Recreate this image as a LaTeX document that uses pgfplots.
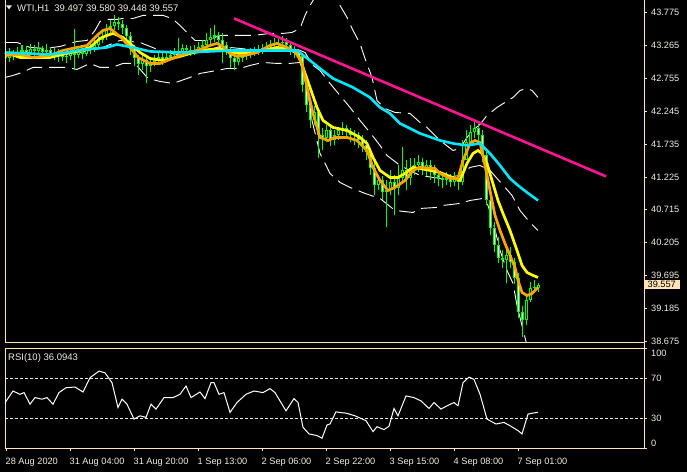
\documentclass[border=0pt]{standalone}
\usepackage{pgfplots}
\pgfplotsset{compat=1.18}
\usepackage{pgfplotstable}
\usepackage{fontspec}
\setmainfont{Liberation Sans}
\definecolor{frame}{RGB}{255,228,181}
\definecolor{lab}{RGB}{242,236,224}
\definecolor{candle}{RGB}{0,255,0}
\definecolor{maY}{RGB}{255,255,0}
\definecolor{maO}{RGB}{255,165,0}
\definecolor{maC}{RGB}{0,230,255}
\definecolor{trend}{RGB}{255,20,147}
\definecolor{bid}{RGB}{255,228,181}
\newcommand\lf{\fontsize{9.5}{11}\selectfont}
\newcommand\tf{\fontsize{9.2}{11}\selectfont}

\pgfplotstableread{
i o h l c
0 43.092 43.185 42.953 43.061
1 43.061 43.216 42.999 43.123
2 43.123 43.185 43.030 43.092
3 43.092 43.232 43.061 43.154
4 43.154 43.263 43.092 43.185
5 43.185 43.247 43.077 43.139
6 43.139 43.278 43.108 43.201
7 43.201 43.263 43.092 43.170
8 43.170 43.309 43.123 43.216
9 43.216 43.247 43.077 43.154
10 43.154 43.278 43.108 43.185
11 43.185 43.232 43.061 43.123
12 43.123 43.216 43.030 43.108
13 43.108 43.201 42.999 43.139
14 43.139 43.185 43.015 43.077
15 43.077 43.170 42.984 43.092
16 43.092 43.216 43.030 43.139
17 43.139 43.511 42.875 43.108
18 43.108 43.232 43.061 43.154
19 43.154 43.216 43.046 43.123
20 43.123 43.263 43.092 43.185
21 43.185 43.294 43.123 43.216
22 43.216 43.340 43.154 43.263
23 43.263 43.418 43.216 43.340
24 43.340 43.495 43.294 43.402
25 43.402 43.588 43.340 43.495
26 43.495 43.650 43.449 43.557
27 43.557 43.728 43.495 43.619
28 43.619 43.697 43.495 43.588
29 43.588 43.650 43.433 43.526
30 43.526 43.573 43.309 43.402
31 43.402 43.464 43.108 43.216
32 43.216 43.263 42.937 43.061
33 43.061 43.108 42.798 42.968
34 42.968 43.108 42.875 43.030
35 43.030 43.077 42.674 42.937
36 42.937 43.061 42.844 42.999
37 42.999 43.108 42.937 43.030
38 43.030 43.154 42.984 43.077
39 43.077 43.139 42.953 43.030
40 43.030 43.154 42.999 43.077
41 43.077 43.185 43.030 43.108
42 43.108 43.216 43.061 43.123
43 43.123 43.371 43.077 43.154
44 43.154 43.278 43.108 43.216
45 43.216 43.263 43.123 43.185
46 43.185 43.247 43.092 43.154
47 43.154 43.263 43.108 43.185
48 43.185 43.309 43.139 43.232
49 43.232 43.340 43.185 43.263
50 43.263 43.449 43.216 43.340
51 43.340 43.526 43.278 43.387
52 43.387 43.573 43.309 43.418
53 43.418 43.464 43.263 43.340
54 43.340 43.449 42.984 43.263
55 43.263 43.309 43.108 43.185
56 43.185 43.232 42.906 43.061
57 43.061 43.108 42.875 42.999
58 42.999 43.123 42.953 43.061
59 43.061 43.154 42.999 43.092
60 43.092 43.185 43.030 43.123
61 43.123 43.216 43.061 43.154
62 43.154 43.232 43.092 43.170
63 43.170 43.263 43.108 43.185
64 43.185 43.278 43.123 43.216
65 43.216 43.309 43.154 43.232
66 43.232 43.340 43.185 43.263
67 43.263 43.371 43.201 43.278
68 43.278 43.387 43.216 43.294
69 43.294 43.402 43.232 43.309
70 43.309 43.371 43.185 43.263
71 43.263 43.309 43.108 43.185
72 43.185 43.247 43.061 43.154
73 43.154 43.185 43.030 43.092
74 43.092 43.123 42.534 42.643
75 42.643 42.689 42.224 42.333
76 42.333 42.410 41.976 42.100
77 42.100 42.317 42.023 42.224
78 42.224 42.255 41.511 41.868
79 41.868 41.976 41.635 41.821
80 41.821 42.023 41.759 41.945
81 41.945 41.992 41.697 41.790
82 41.790 41.945 41.713 41.868
83 41.868 41.992 41.790 41.945
84 41.945 42.069 41.868 41.976
85 41.976 42.023 41.821 41.914
86 41.914 41.976 41.759 41.868
87 41.868 41.945 41.713 41.868
88 41.868 41.914 41.666 41.790
89 41.790 41.868 41.604 41.713
90 41.713 41.790 41.480 41.604
91 41.604 41.666 41.248 41.356
92 41.356 41.449 40.938 41.093
93 41.093 41.248 41.015 41.170
94 41.170 41.232 40.860 40.984
95 40.984 41.170 40.442 41.015
96 41.015 41.325 40.938 41.139
97 41.139 41.248 40.628 41.046
98 41.046 41.403 40.938 41.201
99 41.201 41.682 41.139 41.325
100 41.325 41.480 41.015 41.201
101 41.201 41.511 41.093 41.356
102 41.356 41.511 41.248 41.403
103 41.403 41.558 41.294 41.449
104 41.449 41.511 41.248 41.356
105 41.356 41.480 41.232 41.403
106 41.403 41.480 41.170 41.325
107 41.325 41.403 41.124 41.248
108 41.248 41.325 41.077 41.201
109 41.201 41.294 41.046 41.170
110 41.170 41.294 41.093 41.201
111 41.201 41.263 41.062 41.139
112 41.139 41.294 41.077 41.201
113 41.201 41.279 41.015 41.139
114 41.139 41.790 41.093 41.480
115 41.480 41.945 41.635 41.759
116 41.759 42.023 41.713 41.914
117 41.914 42.069 41.821 41.976
118 41.976 42.038 41.759 41.868
119 41.868 41.945 41.449 41.558
120 41.558 41.604 40.783 40.860
121 40.860 40.922 40.318 40.426
122 40.426 40.519 40.054 40.163
123 40.163 40.287 39.884 39.961
124 39.961 40.085 39.806 39.930
125 39.930 40.085 39.574 40.008
126 40.008 40.132 39.806 39.899
127 39.899 39.961 39.558 39.651
128 39.651 39.729 39.031 39.124
129 39.124 39.217 38.737 39.000
130 39.000 39.372 38.923 39.310
131 39.310 39.589 39.279 39.496
132 39.496 39.620 39.434 39.512
133 39.497 39.580 39.448 39.557
}\bars

\pgfplotstableread{
i p
-0.5 44.2
1.75 57.4
3.5 54.1
4.5 55.8
6 44.2
7.25 50.8
9 49.2
10.25 50.8
11.75 44.2
13.25 55.8
15 60.7
17.25 61.4
19.25 56.4
21 70.7
23.25 77.3
24.75 75.6
26.5 65.7
28 40.9
29 49.2
30.25 44.2
32 29.3
33.5 32.6
35 31.0
36.25 44.2
37.5 39.3
39.5 50.8
41.75 50.8
43.5 54.1
45 62.4
46.25 50.8
48.5 56.4
49.75 49.8
51.25 65.7
52 65.7
53.25 54.1
54.5 55.8
56 36.0
57.75 45.9
60 54.1
62 57.4
64.25 55.8
66 59.8
67.25 55.8
70 37.6
72 49.8
73 45.9
74.25 21.1
75.75 14.5
77.75 12.8
79 10.2
80.25 23.4
81 24.4
82.5 36.6
83.5 35.9
85 35.3
87.25 32.6
90 27.7
91.75 16.8
92.75 21.7
94.5 18.8
95.75 22.1
97 39.9
98 32.6
100 52.5
102 50.8
103.75 47.5
105.75 39.9
107 45.9
108.75 39.3
110.25 42.6
112 45.9
113 42.6
114.25 65.7
115.75 71.3
117 69.0
118.5 54.1
120.25 29.3
122.5 24.4
124.5 26.0
126.25 22.1
128 17.8
129 14.5
130.5 34.3
131.75 35.3
133 36.1
}\rsi

\begin{document}
\begin{tikzpicture}
\fill[black] (0,0) rectangle (687pt,472pt);

% ---------------- main price panel ----------------
\begin{axis}[
  at={(5pt,472pt)}, anchor=north west, scale only axis,
  width=639pt, height=342pt,
  xmin=-0.25, xmax=159.5, ymin=38.660, ymax=43.961,
  axis line style={draw=none},
  clip mode=individual,
  xtick=\empty,
  ytick={38.675,39.185,39.695,40.205,40.715,41.225,41.735,42.245,42.755,43.265,43.775},
  ytick pos=right, yticklabel pos=right,
  tick align=outside, major tick length=3pt,
  tick style={draw=frame, line width=0.8pt},
  yticklabel style={text=lab, font=\tf, inner sep=0pt, xshift=4pt,
    /pgf/number format/fixed, /pgf/number format/fixed zerofill,
    /pgf/number format/precision=3, /pgf/number format/assume math mode=true},
  extra y ticks={39.557}, extra y tick labels={39.557},
  extra y tick style={major tick length=0pt, yticklabel style={fill=bid, text=black, inner xsep=4pt, inner ysep=1.6pt, xshift=-4.5pt}},
]
% Bollinger bands (white dashed)
\addplot[white, line width=0.9pt, dash pattern=on 16pt off 7pt] coordinates {
(-0.25,43.309) (2.75,43.309) (6,43.232) (9.75,43.216) (13.5,43.247) (17.75,43.325) (20.25,43.340)
(22.25,43.495) (23.5,43.635) (25.25,43.666) (27.75,43.666) (29.25,43.681) (31.75,43.681)
(34.25,43.728) (39.25,43.728) (41.5,43.681) (43.5,43.573) (45.5,43.449) (47.25,43.340)
(50.25,43.340) (53.5,43.418) (56.75,43.418) (61.75,43.418) (66,43.449) (69.25,43.449)
(71.5,43.464) (73.5,43.526) (74.75,43.728) (76,43.883) (78,44.084) (79.75,44.146) (81.75,44.084)
(83.5,43.883) (85.25,43.697) (86.75,43.495) (88.5,43.294) (89.75,43.061) (91.5,42.767)
(92.75,42.410) (94.75,42.286) (97.25,42.224) (101,42.209) (103.5,42.069) (105.25,41.992)
(108.5,41.790) (111.75,41.635) (113.5,41.666) (115.25,41.837) (117.25,41.976) (118.5,42.038)
(120.25,42.178) (122.75,42.302) (124.75,42.379) (126.75,42.457) (128.5,42.565) (130.25,42.596)
(131.5,42.565) (133,42.457)};
\addplot[white, line width=0.9pt, dash pattern=on 16pt off 7pt] coordinates {
(-0.25,43.139) (8.5,43.123) (18.5,43.154) (23.5,43.216) (28.5,43.340) (33.5,43.309) (38.5,43.185)
(43.5,43.108) (48.5,43.154) (53.5,43.247) (58.5,43.216) (63.5,43.185) (68.5,43.232) (72.25,43.216)
(74.75,43.154) (76.75,42.953) (78.5,42.875) (81,42.674) (83.5,42.488) (86,42.302) (88.5,42.100)
(91,41.914) (93.5,41.713) (95.25,41.558) (98.5,41.403) (103.5,41.248) (108.5,41.201) (113.5,41.248)
(116,41.372) (118.5,41.403) (121,41.325) (124.75,41.062) (126.5,40.938) (128.5,40.705) (131,40.519)
(133,40.395)};
\addplot[white, line width=0.9pt, dash pattern=on 16pt off 7pt] coordinates {
(-0.25,42.767) (1.75,42.798) (4,42.844) (6.75,42.922) (9.25,42.922) (11.75,42.922) (15.25,42.922)
(17.75,42.891) (21,42.984) (23.5,42.922) (26.5,42.922) (29.25,42.984) (32.25,42.984) (35.5,42.751)
(38.5,42.705) (41.75,42.674) (46,42.767) (48.5,42.829) (52.75,42.875) (55.25,42.906) (58.5,42.906)
(61,42.953) (64.25,42.999) (67.75,42.984) (71,42.984) (73.5,42.999) (75,42.720) (76.5,42.100)
(78.5,41.589) (81,41.279) (83.5,41.139) (86,41.062) (89.75,40.969) (93.5,40.891) (97.25,40.705)
(101.75,40.674) (103.5,40.736) (107.75,40.752) (109.25,40.783) (113.5,40.814) (116,40.860)
(119.25,40.891) (120.5,40.783) (122,40.473) (123.5,40.085) (125.25,39.775) (126.75,39.574)
(127.75,39.233) (129,38.923) (130.25,38.613)};

% candles: wicks
\addplot[draw=none, mark=none, forget plot, error bars/.cd, y dir=plus, y explicit,
  error mark=none, error bar style={draw=candle, line width=1pt}]
  table[x=i, y=l, y error expr={\thisrow{h}-\thisrow{l}}] {\bars};
% bodies
\addplot[draw=none, mark=none, forget plot, error bars/.cd, y dir=plus, y explicit,
  error mark=none, error bar style={draw=candle, line width=3pt}]
  table[x=i, y expr={min(\thisrow{o},\thisrow{c})},
        y error expr={max(abs(\thisrow{c}-\thisrow{o}),0.0155)}] {\bars};
% bear inner (white)
\addplot[draw=none, mark=none, forget plot, error bars/.cd, y dir=plus, y explicit,
  error mark=none, error bar style={draw=white, line width=1pt}]
  table[x=i, y expr={\thisrow{c}+0.0155},
        y error expr={max(\thisrow{o}-\thisrow{c}-0.031,0)}] {\bars};
% bull inner (black)
\addplot[draw=none, mark=none, forget plot, error bars/.cd, y dir=plus, y explicit,
  error mark=none, error bar style={draw=black, line width=1pt}]
  table[x=i, y expr={\thisrow{o}+0.0155},
        y error expr={max(\thisrow{c}-\thisrow{o}-0.031,0)}] {\bars};

% yellow MA
\addplot[maY, line width=2.7pt] coordinates {
(-0.25,43.154) (3.5,43.077) (11,43.077) (15.25,43.139) (18.5,43.185) (21,43.232) (23.5,43.371)
(25.25,43.418) (26.75,43.449) (29.25,43.387) (31,43.294) (33.5,43.154) (36,43.061) (39.25,43.030)
(43.5,43.092) (48.5,43.185) (53.5,43.216) (56,43.154) (58.5,43.139) (64.25,43.185) (67.75,43.232)
(70.25,43.216) (73,43.139) (74.25,42.922) (76,42.612) (77.75,42.302) (79.25,42.100) (81.75,41.992)
(85.25,41.945) (88.5,41.837) (90.25,41.744) (91.75,41.527) (93.5,41.325) (96,41.217) (98,41.217)
(99.75,41.279) (101.75,41.372) (103.5,41.356) (108.5,41.294) (112.25,41.201) (113.5,41.170)
(115.25,41.434) (116.75,41.589) (118,41.635) (119,41.589) (120.25,41.434) (121.5,41.170)
(123,40.860) (124.25,40.659) (126,40.395) (127.75,40.085) (129,39.853) (130.25,39.744)
(131.75,39.698) (133,39.667)};
% orange MA
\addplot[maO, line width=2.7pt] coordinates {
(-0.25,43.108) (3.5,43.123) (6.75,43.077) (11,43.108) (14.25,43.185) (17.75,43.232) (20.25,43.263)
(22.75,43.418) (24.25,43.495) (26,43.526) (27.25,43.464) (29,43.371) (31,43.232) (33,43.077)
(36,42.984) (38.5,42.984) (41,43.046) (43.5,43.108) (46,43.154) (48.5,43.201) (51,43.263)
(52.75,43.294) (54.25,43.247) (56,43.139) (57.75,43.092) (59.75,43.108) (62.75,43.154) (66,43.263)
(67.75,43.294) (70.25,43.232) (72.25,43.170) (74,42.984) (75.25,42.612) (76.75,42.209) (78.5,41.837)
(80.5,41.790) (82.25,41.837) (85.25,41.837) (87.75,41.790) (90.25,41.635) (91.75,41.372)
(93.5,41.170) (95.5,41.015) (97.25,41.062) (99.75,41.170) (101.75,41.325) (103.5,41.372)
(107.25,41.356) (108.5,41.279) (111,41.201) (113,41.201) (114.25,41.480) (116,41.744)
(117.25,41.790) (118.5,41.759) (119.75,41.403) (121,41.015) (122.25,40.628) (123.5,40.395)
(124.75,40.193) (126,40.008) (127.25,39.822) (128,39.620) (129,39.434) (130.25,39.387)
(131.5,39.418) (132.75,39.496) (133,39.512)};
% cyan MA
\addplot[maC, line width=2.6pt] coordinates {
(-0.25,43.154) (11,43.123) (15.25,43.154) (19.25,43.201) (22.75,43.216) (25.25,43.232) (27.75,43.278)
(31.75,43.232) (36,43.170) (43.5,43.154) (51,43.170) (56,43.185) (64.25,43.185) (72.75,43.185)
(76,43.030) (78.5,42.906) (81.75,42.751) (86.75,42.612) (91,42.457) (93.5,42.302) (96,42.209)
(98.5,42.054) (103.5,41.899) (108.5,41.790) (111.75,41.744) (115.25,41.713) (118.5,41.744)
(121,41.589) (123.5,41.403) (126,41.201) (128,41.093) (130.25,40.984) (133,40.860)};
% trend line
\addplot[trend, line width=2.6pt] coordinates {(57,43.682) (150,41.233)};
% panel frame (left and bottom; right scale line drawn below)
\draw[frame, line width=0.8pt] (rel axis cs:0,1) -- (rel axis cs:0,0) -- (rel axis cs:1,0);
\end{axis}

% ---------------- RSI panel ----------------
\begin{axis}[
  at={(5pt,124pt)}, anchor=north west, scale only axis,
  width=639pt, height=100pt,
  xmin=-0.25, xmax=159.5, ymin=0, ymax=100,
  axis line style={draw=frame, line width=0.8pt},
  xtick={0,16,32,48,64,80,96,112,128},
  xticklabels={28 Aug 2020,31 Aug 04:00,31 Aug 20:00,1 Sep 13:00,2 Sep 06:00,2 Sep 22:00,3 Sep 15:00,4 Sep 08:00,7 Sep 01:00},
  xtick pos=left, xticklabel pos=left,
  xticklabel style={text=lab, font=\tf, anchor=north west, inner sep=0pt, yshift=-6pt, xshift=-0.5pt},
  ytick={0,30,70,100}, yticklabels={,30,70,},
  ytick pos=right, yticklabel pos=right,
  yticklabel style={text=lab, font=\tf, inner sep=0pt, xshift=4pt},
  tick align=outside, major tick length=3pt,
  tick style={draw=frame, line width=0.8pt},
]
\addplot[lab, line width=0.8pt, dash pattern=on 3pt off 2pt] coordinates {(-0.25,70) (159.5,70)};
\addplot[lab, line width=0.8pt, dash pattern=on 3pt off 2pt] coordinates {(-0.25,30) (159.5,30)};
\addplot[white, line width=1pt] table[x=i, y=p] {\rsi};
\end{axis}

% right scale line through both panels
\draw[frame, line width=0.8pt] (644pt,472pt) -- (644pt,24pt);

% texts
\fill[lab] (6pt,467pt) -- (12pt,467pt) -- (9pt,463pt) -- cycle;
\node[anchor=west, text=lab, font=\lf, inner sep=0pt] at (17pt,464pt) {WTI,H1\hspace{5pt}39.497 39.580 39.448 39.557};
\node[anchor=west, text=lab, font=\lf, inner sep=0pt] at (8pt,114pt) {RSI(10) 36.0943};
\node[anchor=west, text=lab, font=\tf, inner sep=0pt] at (651pt,119pt) {100};
\node[anchor=west, text=lab, font=\tf, inner sep=0pt] at (651pt,29pt) {0};
\end{tikzpicture}
\end{document}
